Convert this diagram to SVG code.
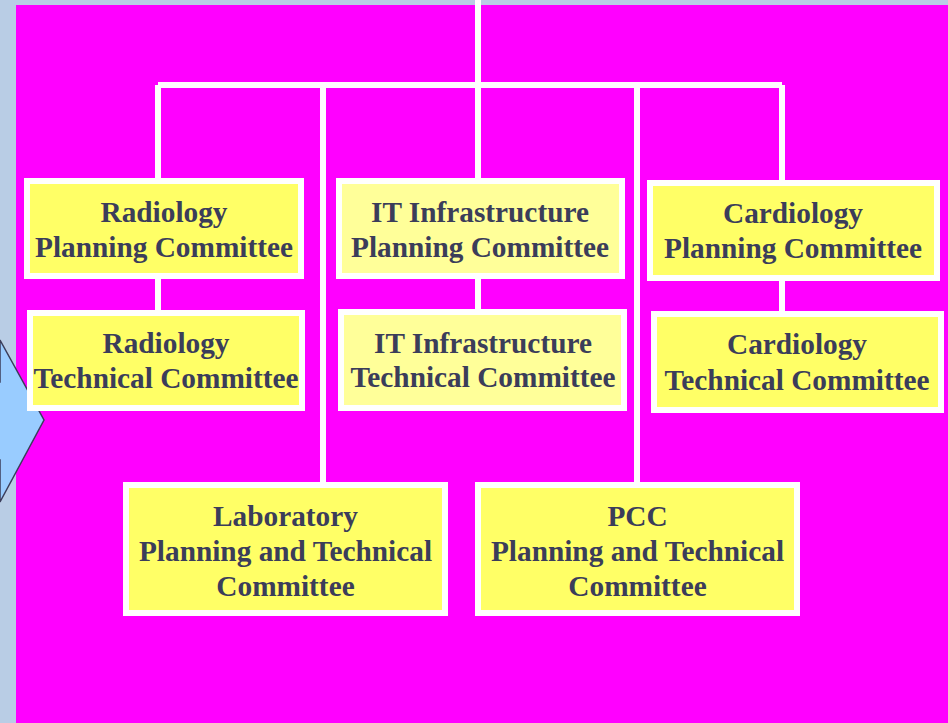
<svg xmlns="http://www.w3.org/2000/svg" width="948" height="723" viewBox="0 0 948 723">
<style>
.box{fill:#ffff66;stroke:#ffffff;stroke-width:6}
.box.pale{fill:#ffff99}
.lbl{font-family:"Liberation Serif","Times New Roman",serif;font-weight:bold;font-size:29.3px;fill:#3b3d5a;text-anchor:middle}
.conn{stroke:#ffffff;stroke-width:6;fill:none}
</style>
<rect x="0" y="0" width="948" height="723" fill="#b9cde5"/>
<rect x="16" y="5" width="932" height="718" fill="#ff00ff"/>
<polygon points="-10,382 0,382 0,340 44,420 0,502 0,460 -10,460" fill="#99ccff" stroke="#3b3d5a" stroke-width="1.5"/>
<g id="connectors">
<path class="conn" d="M478,0 V85 M158,85 H782 M158,85 V178 M323,85 V482 M478,85 V178 M637,85 V482 M782,85 V180 M158,279 V310 M478,279 V309 M782,281 V311"/>
</g>
<g id="radiology-planning">
<rect class="box" x="27" y="181" width="274" height="95"/>
<text class="lbl" x="164" y="222">Radiology</text>
<text class="lbl" x="164" y="257">Planning Committee</text>
</g>
<g id="radiology-technical">
<rect class="box" x="30" y="313" width="272" height="95"/>
<text class="lbl" x="166" y="353">Radiology</text>
<text class="lbl" x="166" y="388">Technical Committee</text>
</g>
<g id="it-planning">
<rect class="box pale" x="339" y="181" width="283" height="95"/>
<text class="lbl" x="480" y="222">IT Infrastructure</text>
<text class="lbl" x="480" y="257">Planning Committee</text>
</g>
<g id="it-technical">
<rect class="box pale" x="341" y="312" width="283" height="96"/>
<text class="lbl" x="483" y="353">IT Infrastructure</text>
<text class="lbl" x="483" y="387">Technical Committee</text>
</g>
<g id="cardiology-planning">
<rect class="box" x="650" y="183" width="287" height="95"/>
<text class="lbl" x="793" y="223">Cardiology</text>
<text class="lbl" x="793" y="258">Planning Committee</text>
</g>
<g id="cardiology-technical">
<rect class="box" x="654" y="314" width="287" height="96"/>
<text class="lbl" x="797" y="354">Cardiology</text>
<text class="lbl" x="797" y="390">Technical Committee</text>
</g>
<g id="laboratory">
<rect class="box" x="126" y="485" width="319" height="128"/>
<text class="lbl" x="285.5" y="526">Laboratory</text>
<text class="lbl" x="285.5" y="561">Planning and Technical</text>
<text class="lbl" x="285.5" y="596">Committee</text>
</g>
<g id="pcc">
<rect class="box" x="478" y="485" width="319" height="128"/>
<text class="lbl" x="637.5" y="526">PCC</text>
<text class="lbl" x="637.5" y="561">Planning and Technical</text>
<text class="lbl" x="637.5" y="596">Committee</text>
</g>
</svg>
